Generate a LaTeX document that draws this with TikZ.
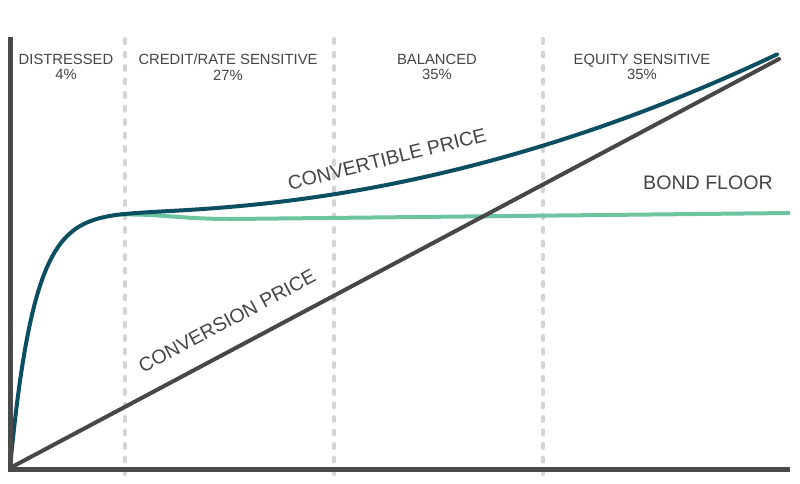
\documentclass[tikz,border=0pt]{standalone}
\usepackage{fontspec}
\setmainfont{Liberation Sans}
\begin{document}
\begin{tikzpicture}[x=1pt,y=-1pt,
  txt/.style={text=textgray, inner sep=0pt},
  toplbl/.style={txt, align=center, font=\fontsize{14.8}{15.5}\selectfont},
  curvelbl/.style={txt, font=\fontsize{19.6}{22}\selectfont},
  divider/.style={draw=dashgray, line width=4pt, line cap=round, dash pattern=on 4pt off 9.5pt},
  axisline/.style={draw=axisgray, line width=5pt},
  convline/.style={draw=convgray, line width=4pt},
  bondline/.style={draw=bondgreen, line width=4pt},
  cvline/.style={draw=teal, line width=4pt}]
\definecolor{textgray}{HTML}{454545}
\definecolor{dashgray}{HTML}{D4D4D4}
\definecolor{axisgray}{HTML}{4A4A4A}
\definecolor{convgray}{HTML}{474747}
\definecolor{bondgreen}{HTML}{6CC5A0}
\definecolor{teal}{HTML}{0D4F62}
\useasboundingbox (0,0) rectangle (800,483);
\fill[white] (0,0) rectangle (800,483);
% dividers
\foreach \xx/\nm in {125/d1,334/d2,543/d3}{
  \coordinate (\nm t) at (\xx,39);
  \coordinate (\nm b) at (\xx,474);
  \draw[divider] (\nm t) -- (\nm b);
}
% coordinates
\coordinate (O) at (10,468);
\coordinate (convend) at (779,59);
\coordinate (bondstart) at (120,214.5);
\coordinate (bondlow) at (232,219);
\coordinate (bondend) at (790,213);
% bond floor
\draw[bondline] (bondstart) .. controls (165,214) and (180,219) .. (bondlow) -- (bondend);
% conversion price line
\draw[convline, line cap=round] (O) -- (convend);
% convertible price curve
\draw[cvline, line cap=round] plot[domain=10:777, samples=500, smooth]
  (\x, {468 - 255*(1-exp(-(\x-10)/24)) - 0.01*(\x-10) - (0.01884*max(\x-125,0))^2});
% axes
\coordinate (ytop) at (10,37);
\coordinate (xend) at (790,469);
\draw[axisline] (ytop) -- (10,471.5);
\draw[axisline] (7.5,469) -- (xend);
% labels
\node[toplbl] (l1) at (66,67) {DISTRESSED\\4\%};
\node[toplbl] (l2) at (228,67) {CREDIT/RATE SENSITIVE\\27\%};
\node[toplbl] (l3) at (437,67) {BALANCED\\35\%};
\node[toplbl] (l4) at (642,67) {EQUITY SENSITIVE\\35\%};
\node[curvelbl, rotate=14] (cvl) at (387,159) {CONVERTIBLE PRICE};
\node[curvelbl, rotate=28] (cpl) at (227,321) {CONVERSION PRICE};
\node[curvelbl] (bfl) at (708,183) {BOND FLOOR};
\end{tikzpicture}
\end{document}
